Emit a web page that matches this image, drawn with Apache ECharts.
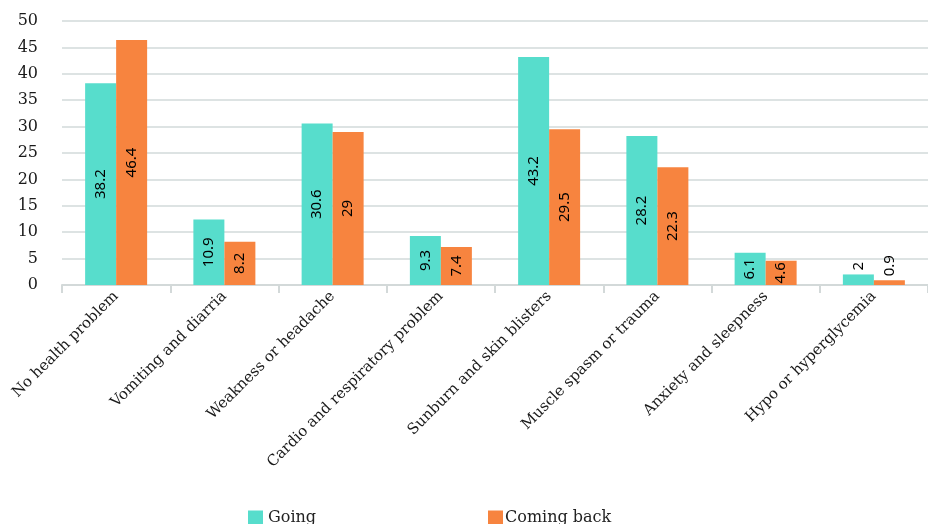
<!DOCTYPE html>
<html>
<head>
<meta charset="utf-8">
<script src="https://cdn.jsdelivr.net/npm/echarts@6/dist/echarts.min.js"></script>
<style>
html,body{margin:0;padding:0;background:#fff;}
#c{width:928px;height:524px;}
</style>
</head>
<body>
<div id="c"></div>
<script>
const categories = ["No health problem","Vomiting and diarria","Weakness or headache","Cardio and respiratory problem","Sunburn and skin blisters","Muscle spasm or trauma","Anxiety and sleepness","Hypo or hyperglycemia"];
const goingValues = [38.2, 12.4, 30.6, 9.3, 43.2, 28.2, 6.1, 2];
const goingLabels = ["38.2","10.9","30.6","9.3","43.2","28.2","6.1","2"];
const backValues = [46.4, 8.2, 29, 7.2, 29.5, 22.3, 4.6, 0.9];
const backLabels = ["46.4","8.2","29","7.4","29.5","22.3","4.6","0.9"];
const yTicks = [0, 50, 5];

const serif = "DejaVu Serif";
const outsideIdx = [7];

function mk(values) {
  return values.map((v, i) => {
    const item = { value: v };
    if (outsideIdx.includes(i)) {
      item.label = { position: 'top', align: 'left', verticalAlign: 'middle', distance: 4 };
    }
    return item;
  });
}

const chart = echarts.init(document.getElementById('c'));
chart.setOption({
  animation: false,
  backgroundColor: '#fff',
  grid: { left: 62, top: 21, width: 876, height: 264, containLabel: false },
  legend: [
    { data: ['Going'], left: 243, top: 505, itemWidth: 15, itemHeight: 15, icon: 'rect',
      textStyle: { fontFamily: serif, fontSize: 16, color: '#222' } },
    { data: ['Coming back'], left: 483, top: 505, itemWidth: 15, itemHeight: 15, icon: 'rect',
      textStyle: { fontFamily: serif, fontSize: 16, color: '#222', padding: [0,0,0,-3] } }
  ],
  xAxis: {
    type: 'category',
    data: categories,
    axisLine: { lineStyle: { color: '#d3d9d9', width: 2 } },
    axisTick: { show: true, length: 8, lineStyle: { color: '#d3d9d9', width: 2 } },
    axisLabel: { rotate: 45, interval: 0, margin: 9, fontFamily: serif, fontSize: 15, color: '#1a1a1a' }
  },
  yAxis: {
    type: 'value',
    min: yTicks[0], max: yTicks[1], interval: yTicks[2],
    axisLine: { show: false },
    axisTick: { show: false },
    axisLabel: { margin: 24, fontFamily: serif, fontSize: 16, color: '#1a1a1a' },
    splitLine: { lineStyle: { color: '#dde3e3', width: 2 } }
  },
  series: [
    {
      name: 'Going', type: 'bar', data: mk(goingValues),
      barWidth: 31, barGap: '0%',
      itemStyle: { color: '#57DDCC' },
      label: { show: true, position: 'inside', rotate: 90, fontFamily: 'Noto Sans', fontSize: 15, color: '#000',
        formatter: p => goingLabels[p.dataIndex] }
    },
    {
      name: 'Coming back', type: 'bar', data: mk(backValues),
      barWidth: 31, barGap: '0%',
      itemStyle: { color: '#F7843F' },
      label: { show: true, position: 'inside', rotate: 90, fontFamily: 'Noto Sans', fontSize: 15, color: '#000',
        formatter: p => backLabels[p.dataIndex] }
    }
  ]
});
</script>
</body>
</html>
